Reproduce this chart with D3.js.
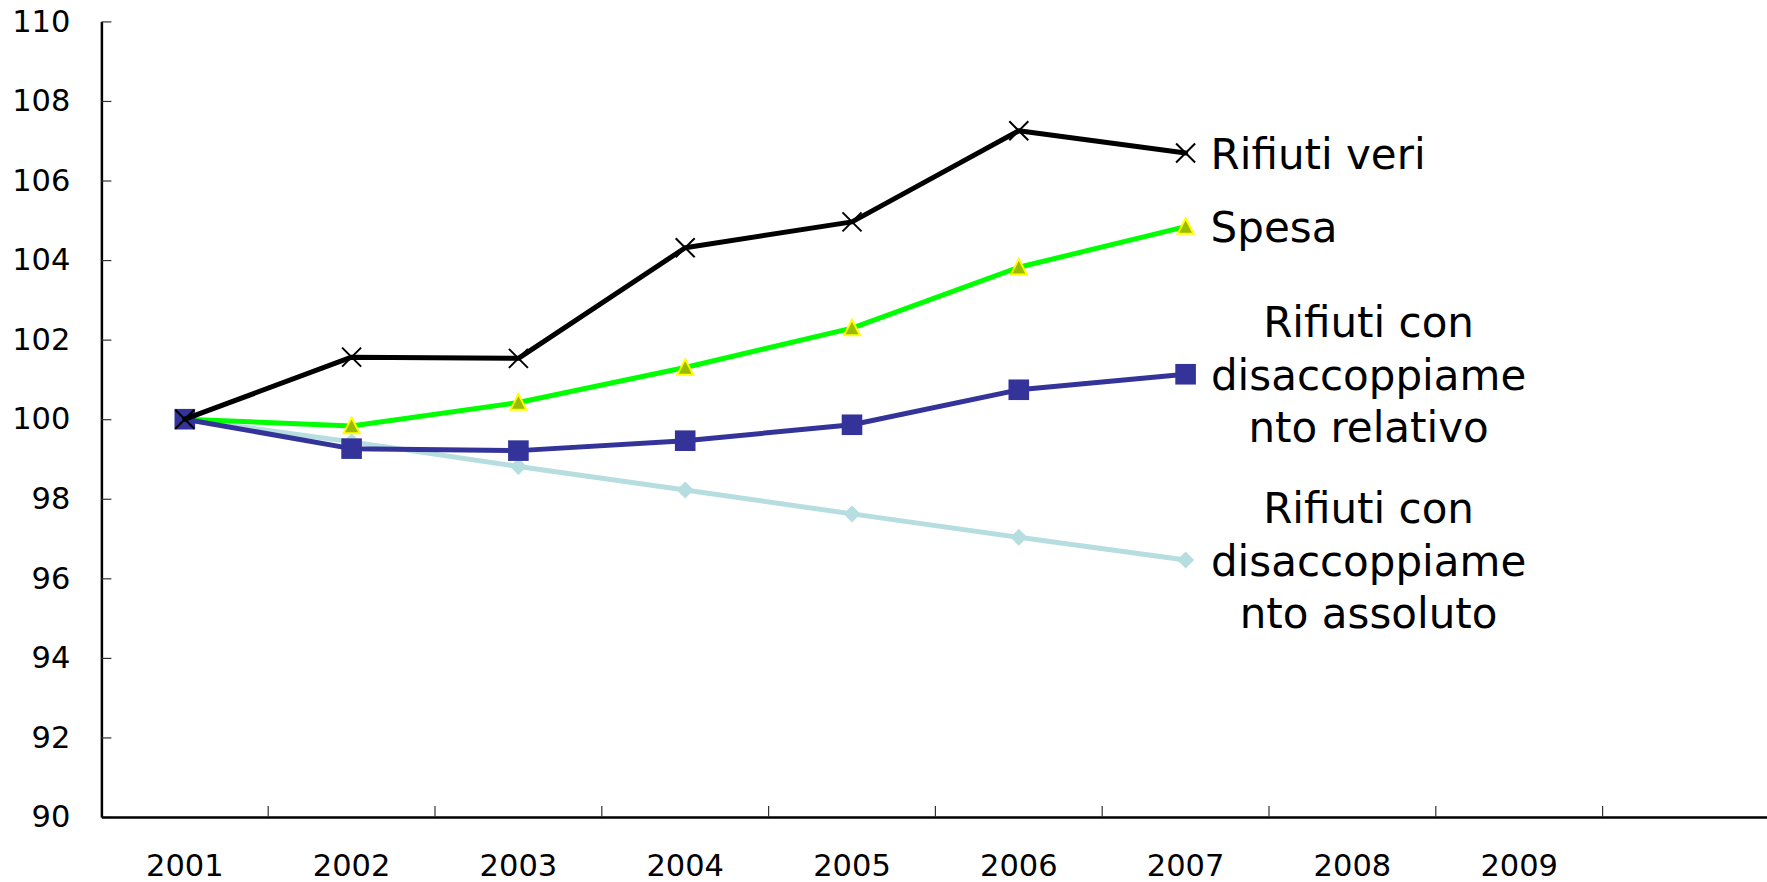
<!DOCTYPE html>
<html>
<head>
<meta charset="utf-8">
<script src="https://cdn.jsdelivr.net/npm/d3@7"></script>
<style>
  html, body { margin: 0; padding: 0; background: #fff; }
  svg { display: block; font-family: "DejaVu Sans", Verdana, sans-serif; }
</style>
</head>
<body>
<svg id="chart" width="1767" height="882"></svg>
<script>
// Categories along the x axis (the last slot is left empty)
const years = ["2001", "2002", "2003", "2004", "2005", "2006", "2007", "2008", "2009", ""];
// Index values (2001 = 100)
const rifiutiVeri = [100, 101.56, 101.53, 104.31, 104.96, 107.25, 106.69];
const spesa = [100, 99.83, 100.42, 101.30, 102.29, 103.82, 104.84];
const disaccRelativo = [100, 99.26, 99.21, 99.46, 99.86, 100.74, 101.13];
const disaccAssoluto = [100, 99.43, 98.81, 98.22, 97.62, 97.03, 96.46];
// Y axis ticks
const yTicks = [90, 92, 94, 96, 98, 100, 102, 104, 106, 108, 110];

const svg = d3.select("#chart");

const x = d3.scaleBand().domain(years).range([101.4, 101.4 + 166.8 * years.length]).padding(0);
const y = d3.scaleLinear().domain([90, 110]).range([817, 21.4]);

// Y axis
const yAxis = svg.append("g")
  .attr("transform", `translate(${x.range()[0]},0)`)
  .call(d3.axisLeft(y).tickValues(yTicks).tickSizeInner(-10).tickSizeOuter(0).tickPadding(31));
yAxis.select(".domain").attr("stroke", "#000").attr("stroke-width", 2.5);
yAxis.selectAll(".tick line").attr("stroke", "#333").attr("stroke-width", 1.2);
yAxis.selectAll(".tick text").attr("font-size", 30.5).attr("fill", "#000")
  .attr("font-family", "DejaVu Sans, Verdana, sans-serif");

// X axis: labels centred in each slot, tick marks on slot boundaries
const xAxis = svg.append("g")
  .attr("transform", `translate(0,${y(90)})`)
  .call(d3.axisBottom(x).tickSize(0).tickPadding(37));
xAxis.select(".domain").attr("stroke", "#000").attr("stroke-width", 2.5);
xAxis.selectAll(".tick text").attr("font-size", 30.5).attr("fill", "#000")
  .attr("font-family", "DejaVu Sans, Verdana, sans-serif");
xAxis.selectAll(".boundary")
  .data(years.slice(1))
  .enter().append("line")
  .attr("class", "boundary")
  .attr("x1", d => x(d)).attr("x2", d => x(d))
  .attr("y1", 0).attr("y2", -11)
  .attr("stroke", "#333").attr("stroke-width", 1.2);

const cx = i => x(years[i]) + x.bandwidth() / 2;
const line = d3.line().x((d, i) => cx(i)).y(d => y(d));

// Marker shapes
const diamond = s => `M0,${-s}L${s},0L0,${s}L${-s},0Z`;
const square = s => `M${-s},${-s}H${s}V${s}H${-s}Z`;
const triangle = s => `M0,${-s * 1.05}L${s},${s * 0.9}L${-s},${s * 0.9}Z`;
const cross = s => `M${-s},${-s}L${s},${s}M${-s},${s}L${s},${-s}`;

const series = [
  { name: "assoluto", values: disaccAssoluto, color: "#b6dde0", width: 5,
    marker: diamond(8.5), mFill: "#b6dde0", mStroke: "none", mWidth: 0 },
  { name: "spesa", values: spesa, color: "#00ff00", width: 5,
    marker: triangle(8), mFill: "#99bb00", mStroke: "#ffff00", mWidth: 2 },
  { name: "relativo", values: disaccRelativo, color: "#333399", width: 5,
    marker: square(10.3), mFill: "#333399", mStroke: "none", mWidth: 0 },
  { name: "veri", values: rifiutiVeri, color: "#000000", width: 5,
    marker: cross(9.5), mFill: "none", mStroke: "#000", mWidth: 2 }
];

series.forEach(s => {
  const g = svg.append("g").attr("class", "series-" + s.name);
  g.append("path")
    .datum(s.values)
    .attr("d", line)
    .attr("fill", "none")
    .attr("stroke", s.color)
    .attr("stroke-width", s.width)
    .attr("stroke-linejoin", "round")
    .attr("stroke-linecap", "round");
  g.selectAll("path.marker")
    .data(s.values)
    .enter().append("path")
    .attr("class", "marker")
    .attr("transform", (d, i) => `translate(${cx(i)},${y(d)})`)
    .attr("d", s.marker)
    .attr("fill", s.mFill)
    .attr("stroke", s.mStroke)
    .attr("stroke-width", s.mWidth);
});

// Series names beside the last point
const lastIdx = rifiutiVeri.length - 1;
const labels = [
  { lines: ["Rifiuti veri"], values: rifiutiVeri, anchor: "start", dx: 25 },
  { lines: ["Spesa"], values: spesa, anchor: "start", dx: 25 },
  { lines: ["Rifiuti con", "disaccoppiame", "nto relativo"], values: disaccRelativo, anchor: "middle", dx: 183 },
  { lines: ["Rifiuti con", "disaccoppiame", "nto assoluto"], values: disaccAssoluto, anchor: "middle", dx: 183 }
];
const lineH = 52.3;
labels.forEach(l => {
  const px = cx(lastIdx) + l.dx;
  const py = y(l.values[lastIdx]);
  const t = svg.append("text")
    .attr("font-size", 42)
    .attr("fill", "#000")
    .attr("text-anchor", l.anchor);
  l.lines.forEach((ln, k) => {
    t.append("tspan")
      .attr("x", px)
      .attr("y", py + 15.5 + (k - (l.lines.length - 1) / 2) * lineH)
      .text(ln);
  });
});
</script>
</body>
</html>
